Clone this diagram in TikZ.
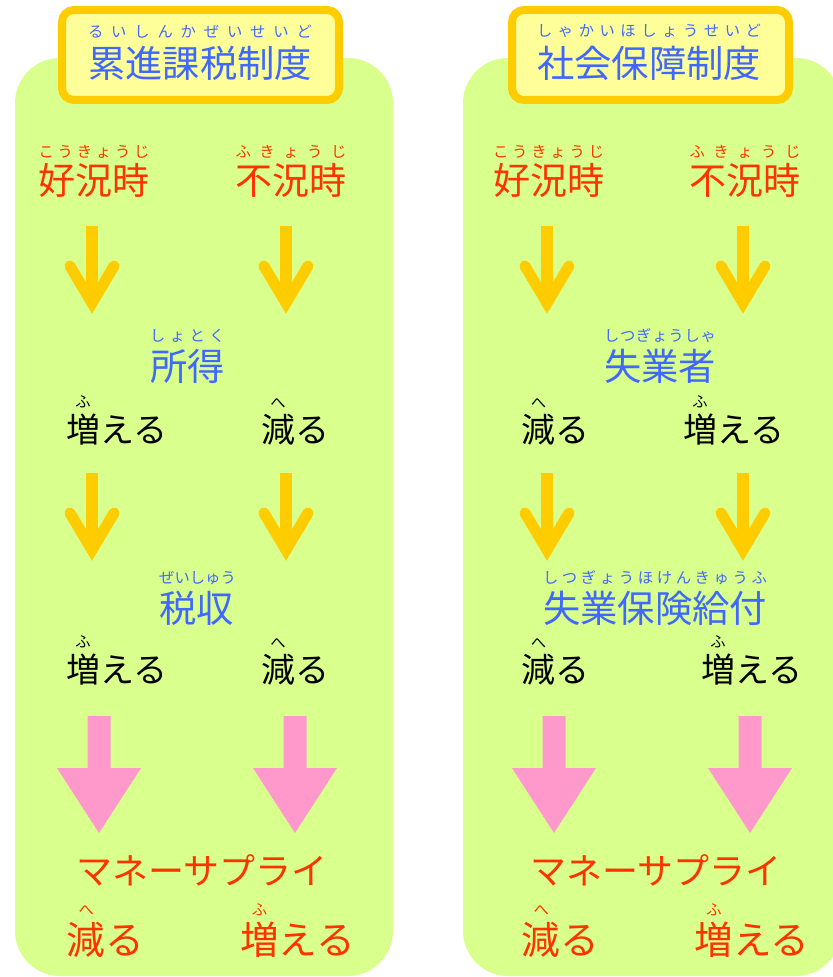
\documentclass[tikz,border=0pt]{standalone}
\usepackage{fontspec}
\setmainfont{Noto Sans CJK JP}
\usetikzlibrary{positioning,calc}

\definecolor{panelgreen}{HTML}{D9FF8C}
\definecolor{titlefill}{HTML}{FFFF99}
\definecolor{titleline}{HTML}{FFCC00}
\definecolor{arrowyellow}{HTML}{FFCC00}
\definecolor{arrowpink}{HTML}{FF99CC}
\definecolor{textred}{HTML}{FF3300}
\definecolor{textblue}{HTML}{4068FF}

% furigana spread over the base text
\newcommand\rubysize{\fontsize{11.5pt}{11.5pt}\selectfont}
\makeatletter
\def\rb@loop#1#2{#1\ifx\relax#2\else\hfil\expandafter\rb@loop\fi#2}
\newcommand\rb[3][4.5pt]{\setbox0\hbox{#2}\vbox{\hbox to\wd0{\hskip0pt plus .01fil\rubysize\rb@loop#3\relax\hskip0pt plus .01fil}\nointerlineskip\kern#1\box0}}
\makeatother

\begin{document}
\begin{tikzpicture}[x=0.75pt,y=-0.75pt,
    every node/.style={inner sep=0pt, anchor=base},
    panel/.style={fill=panelgreen, rounded corners=33.75pt},
    titlebox/.style={draw=titleline, line width=6pt, fill=titlefill, rounded corners=9pt,
        minimum width=207.75pt, minimum height=67.5pt, anchor=center},
    titletext/.style={text=textblue, font=\fontsize{28pt}{30pt}\selectfont},
    redtext/.style={text=textred, font=\fontsize{27.75pt}{30pt}\selectfont},
    bluetext/.style={text=textblue, font=\fontsize{28pt}{30pt}\selectfont},
    blacktext/.style={text=black, font=\fontsize{25.5pt}{28pt}\selectfont},
    moneytext/.style={text=textred, font=\fontsize{27pt}{30pt}\selectfont},
    bigred/.style={text=textred, font=\fontsize{29pt}{30pt}\selectfont},
    yshaft/.style={draw=arrowyellow, line width=9pt},
    yhead/.style={draw=arrowyellow, line width=8.25pt, line cap=round, line join=miter},
    pinkarrow/.style={fill=arrowpink}]
    \useasboundingbox (0,0) rectangle (832,977);

    % panels and titles
    \fill [panel] (15,58) rectangle (393,976);
    \fill [panel] (463,58) rectangle (841,976);
    \node [titlebox] (lbox) at (200.5,55) {};
    \node [titlebox] (rbox) at (650.5,55) {};
    \node [titletext] (ltitle) at (200,77.2) {\rb[6pt]{累進課税制度}{るいしんかぜいせいど}};
    \node [titletext] (rtitle) at (649,77.2) {\rb[6pt]{社会保障制度}{しゃかいほしょうせいど}};

    % left: progressive tax
    \node [redtext] (lgood) at (94,194.2) {\rb[3.5pt]{好況時}{こうきょうじ}};
    \node [redtext] (lbad) at (291,194.2) {\rb[3.5pt]{不況時}{ふきょうじ}};
    \node [bluetext] (linc) at (187.5,380.2) {\rb{所得}{しょとく}};
    \node [blacktext] (linc1) at (116.5,442.5) {\rb{増}{ふ}える};
    \node [blacktext] (linc2) at (295,442.5) {\rb{減}{へ}る};
    \node [bluetext] (ltax) at (196.5,622.2) {\rb{税収}{ぜいしゅう}};
    \node [blacktext] (ltax1) at (116.5,682.5) {\rb{増}{ふ}える};
    \node [blacktext] (ltax2) at (295,682.5) {\rb{減}{へ}る};
    \node [moneytext] (lms) at (202,884.5) {マネーサプライ};
    \node [bigred] (lms1) at (105.5,954) {\rb{減}{へ}る};
    \node [bigred] (lms2) at (297.5,954) {\rb{増}{ふ}える};

    % right: social security
    \node [redtext] (rgood) at (548.5,194.2) {\rb[3.5pt]{好況時}{こうきょうじ}};
    \node [redtext] (rbad) at (745,194.2) {\rb[3.5pt]{不況時}{ふきょうじ}};
    \node [bluetext] (rjob) at (660,380.2) {\rb{失業者}{しつぎょうしゃ}};
    \node [blacktext] (rjob1) at (555.5,442.5) {\rb{減}{へ}る};
    \node [blacktext] (rjob2) at (733.5,442.5) {\rb{増}{ふ}える};
    \node [bluetext] (rins) at (655,622.2) {\rb{失業保険給付}{しつぎょうほけんきゅうふ}};
    \node [blacktext] (rins1) at (555.5,682.5) {\rb{減}{へ}る};
    \node [blacktext] (rins2) at (751.5,682.5) {\rb{増}{ふ}える};
    \node [moneytext] (rms) at (656,884.5) {マネーサプライ};
    \node [bigred] (rms1) at (560.5,954) {\rb{減}{へ}る};
    \node [bigred] (rms2) at (752,954) {\rb{増}{ふ}える};

    % yellow arrows
    \foreach \n/\x/\y in {1/92/226, 2/286/226, 3/547/226, 4/743/226,
                          5/92/473, 6/286/473, 7/547/473, 8/743/473} {
        \coordinate (ya\n) at (\x,\y);
        \draw [yshaft] (ya\n) -- ++(0,77);
        \draw [yhead] ($(ya\n)+(-22,40)$) -- ($(ya\n)+(0,77)$) -- ($(ya\n)+(22,40)$);
    }

    % pink arrows
    \foreach \n/\x in {1/99, 2/295, 3/554, 4/750} {
        \coordinate (pa\n) at (\x,716);
        \fill [pinkarrow] ($(pa\n)+(-11.5,0)$) -- ($(pa\n)+(11.5,0)$) -- ($(pa\n)+(11.5,52)$)
            -- ($(pa\n)+(42,52)$) -- ($(pa\n)+(0,117)$) -- ($(pa\n)+(-42,52)$)
            -- ($(pa\n)+(-11.5,52)$) -- cycle;
    }
\end{tikzpicture}
\end{document}
